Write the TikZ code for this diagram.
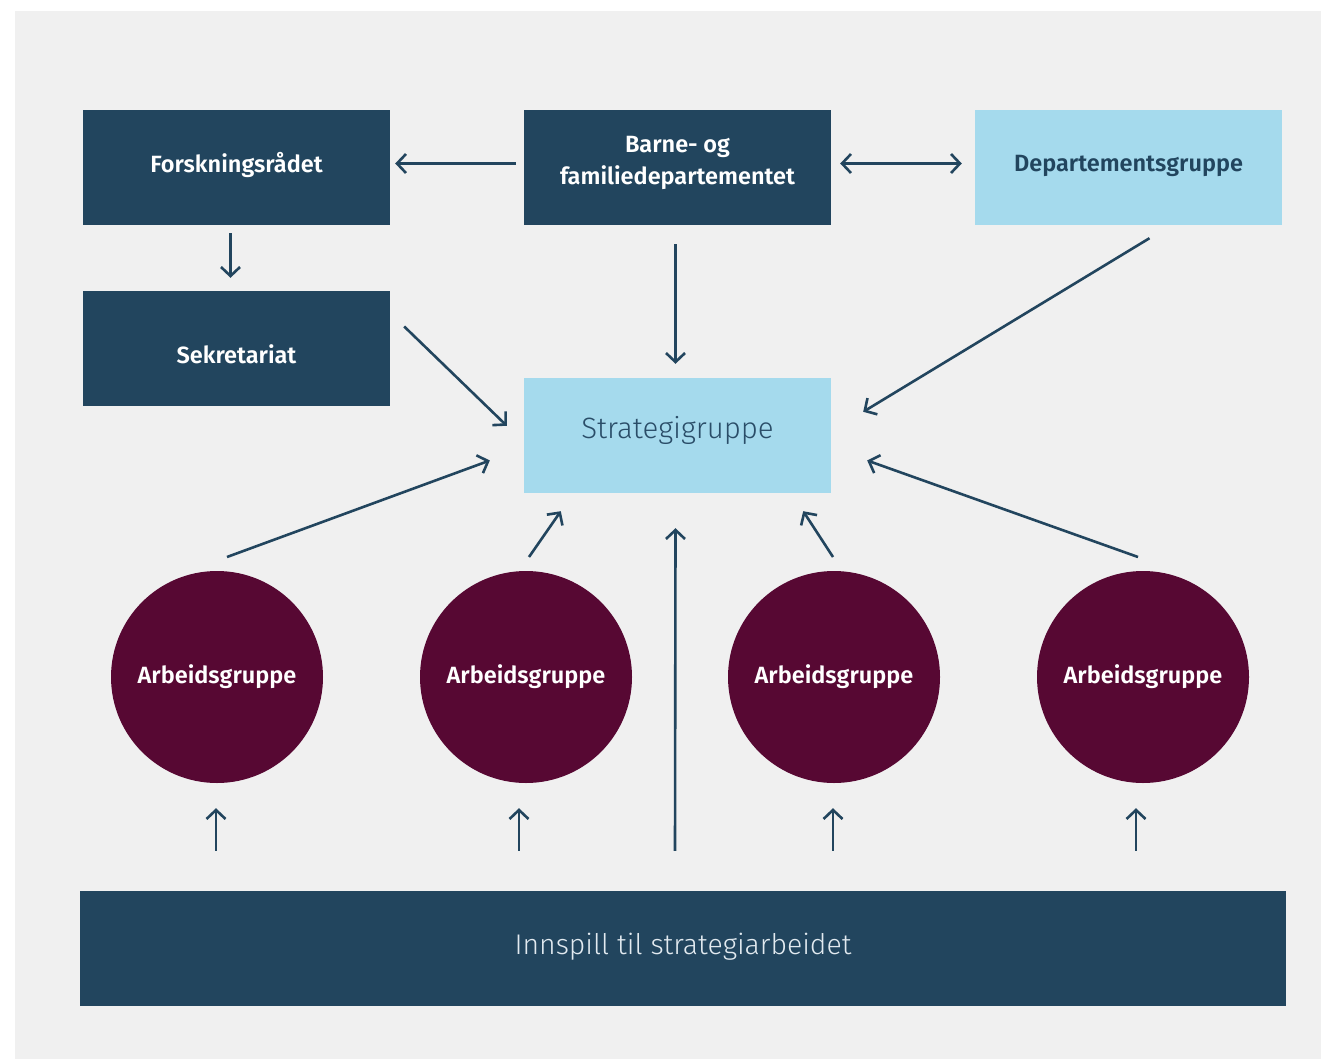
\documentclass[tikz,border=0pt]{standalone}
\usepackage{fontspec}
\setmainfont{Fira Sans}
\newfontfamily\lightf{Fira Sans}[UprightFont=* Light]
\newfontfamily\semif{Fira Sans}[UprightFont=* SemiBold]
\usetikzlibrary{arrows.meta,calc}
\definecolor{navy}{HTML}{22455E}
\definecolor{skyb}{HTML}{A5DAED}
\definecolor{wine}{HTML}{570833}
\definecolor{bggray}{HTML}{F0F0F0}
\definecolor{txtlight}{HTML}{E2EAF0}
\definecolor{txtdark}{HTML}{2A4D68}
\newcommand{\vshift}[2]{\raisebox{#1}[\height][\depth]{#2}}
\begin{document}
\begin{tikzpicture}[x=1pt,y=-1pt,
  box/.style={minimum width=307pt,minimum height=115pt,inner sep=0pt,align=center,font=\fontsize{23.5}{32}\selectfont\semif},
  darkbox/.style={box,fill=navy,text=white},
  lightbox/.style={box,fill=skyb,text=navy},
  wg/.style={circle,fill=wine,text=white,minimum size=212pt,inner sep=0pt,font=\fontsize{23.5}{28}\selectfont\semif},
  arr/.style={draw=navy,line width=2.6pt,-{Straight Barb[length=9pt,width=19pt,line width=2.6pt]}},
  darr/.style={arr,{Straight Barb[length=9pt,width=19pt,line width=2.6pt]}-{Straight Barb[length=9pt,width=19pt,line width=2.6pt]}}
]
\useasboundingbox (0,0) rectangle (1321,1059);
\fill[bggray] (15,11) rectangle (1321,1059);
\node[darkbox] (forsk) at (236.5,167.5) {\vshift{3pt}{Forskningsrådet}};
\node[darkbox] (barne) at (677.5,167.5) {\vshift{5pt}{\begin{tabular}{@{}c@{}}Barne- og\\[0pt]familiedepartementet\end{tabular}}};
\node[lightbox] (dep) at (1128.5,167.5) {\vshift{2pt}{Departementsgruppe}};
\node[darkbox] (sekr) at (236.5,348.5) {\vshift{-6pt}{Sekretariat}};
\node[lightbox,font=\fontsize{29.4}{34}\selectfont\lightf,text=txtdark] (strat) at (677.5,435.5) {\vshift{5pt}{Strategigruppe}};
\node[wg] (a1) at (217,677) {Arbeidsgruppe};
\node[wg] (a2) at (526,677) {Arbeidsgruppe};
\node[wg] (a3) at (834,677) {Arbeidsgruppe};
\node[wg] (a4) at (1143,677) {Arbeidsgruppe};
\node[fill=navy,text=txtlight,minimum width=1206pt,minimum height=115pt,inner sep=0pt,font=\fontsize{28.4}{32}\selectfont\lightf] (inn) at (683,948.5) {\vshift{2pt}{Innspill til strategiarbeidet}};
% coordinates
\coordinate (sekrOut) at ($(sekr.east)+(14,-22)$);
\coordinate (stratL) at ($(strat.north west)+(-17,48)$);
\coordinate (depOut) at ($(dep.south)+(21,13)$);
\coordinate (stratR) at ($(strat.north east)+(32,34)$);
\coordinate (a1Out) at (227,557);
\coordinate (a1In) at ($(strat.west)+(-34,25)$);
\coordinate (a2Out) at (529,557);
\coordinate (a2In) at ($(strat.south west)+(37,18)$);
\coordinate (a3Out) at (833,557);
\coordinate (a3In) at ($(strat.south east)+(-28,18)$);
\coordinate (a4Out) at (1138,557);
\coordinate (a4In) at ($(strat.east)+(36,25)$);
% arrows
\draw[arr] ($(barne.west)+(-8,-4)$) -- ($(forsk.east)+(5,-4)$);
\draw[darr] ($(barne.east)+(9,-4)$) -- ($(dep.west)+(-13,-4)$);
\draw[arr] ($(forsk.south)+(-6,8)$) -- ($(sekr.north)+(-6,-13)$);
\draw[arr] ($(barne.south)+(-2,19)$) -- ($(strat.north)+(-2,-14)$);
\draw[arr] (sekrOut) -- (stratL);
\draw[arr] (depOut) -- (stratR);
\draw[arr] (a1Out) -- (a1In);
\draw[arr] (a2Out) -- (a2In);
\draw[arr] (a3Out) -- (a3In);
\draw[arr] (a4Out) -- (a4In);
\draw[arr] ($(inn.north)+(-8,-40)$) -- ($(strat.south)+(-2,35)$);
\draw[arr] ($(inn.north-|a1)+(-1,-40)$) -- ($(a1.south)+(-1,25)$);
\draw[arr] ($(inn.north-|a2)+(-7,-40)$) -- ($(a2.south)+(-7,25)$);
\draw[arr] ($(inn.north-|a3)+(-1,-40)$) -- ($(a3.south)+(-1,25)$);
\draw[arr] ($(inn.north-|a4)+(-7,-40)$) -- ($(a4.south)+(-7,25)$);
\end{tikzpicture}
\end{document}
